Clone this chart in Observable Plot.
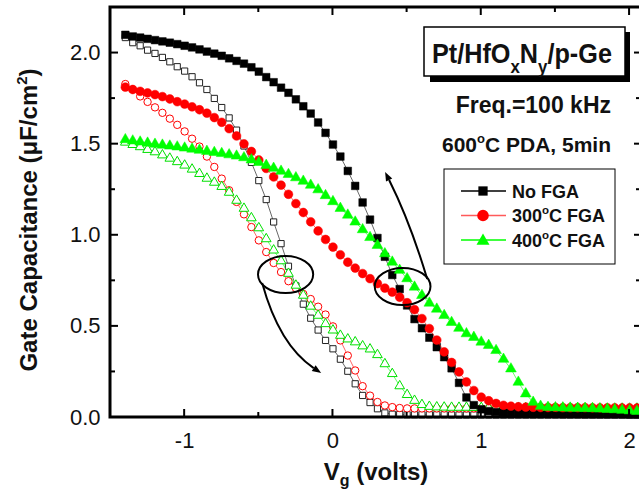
<!DOCTYPE html>
<html>
<head>
<meta charset="utf-8">
<script src="https://cdn.jsdelivr.net/npm/d3@7"></script>
<script src="https://cdn.jsdelivr.net/npm/@observablehq/plot@0.6"></script>
<style>
html,body{margin:0;padding:0;background:#fff;overflow:hidden}
#chart svg{display:block}
</style>
</head>
<body>
<div id="chart"></div>
<script>
// Gate voltage (V)
const vg = [-1.40,-1.35,-1.30,-1.25,-1.20,-1.15,-1.10,-1.05,-1.00,-0.95,
  -0.90,-0.85,-0.80,-0.75,-0.70,-0.65,-0.60,-0.55,-0.50,-0.45,
  -0.40,-0.35,-0.30,-0.25,-0.20,-0.15,-0.10,-0.05,0.00,0.05,
  0.10,0.15,0.20,0.25,0.30,0.35,0.40,0.45,0.50,0.55,
  0.60,0.65,0.70,0.75,0.80,0.85,0.90,0.95,1.00,1.05,
  1.10,1.15,1.20,1.25,1.30,1.35,1.40,1.45,1.50,1.55,
  1.60,1.65,1.70,1.75,1.80,1.85,1.90,1.95,2.00,2.05];

// Filled symbols
const noFgaFilled = [2.100,2.091,2.085,2.078,2.071,2.064,2.057,2.049,2.040,2.031,
  2.020,2.008,1.997,1.985,1.971,1.957,1.942,1.922,1.898,1.868,
  1.840,1.810,1.782,1.746,1.708,1.668,1.619,1.562,1.498,1.432,
  1.353,1.271,1.180,1.086,0.985,0.882,0.782,0.705,0.615,0.540,
  0.490,0.438,0.386,0.331,0.270,0.190,0.110,0.068,0.045,0.035,
  0.030,0.027,0.025,0.024,0.023,0.022,0.022,0.021,0.021,0.020,
  0.020,0.020,0.019,0.019,0.019,0.018,0.018,0.018,0.017,0.017];
const fga300Filled = [1.813,1.800,1.790,1.781,1.772,1.761,1.748,1.733,1.720,1.705,
  1.689,1.670,1.646,1.620,1.585,1.545,1.502,1.460,1.413,1.367,
  1.320,1.275,1.225,1.174,1.125,1.074,1.024,0.977,0.935,0.893,
  0.852,0.820,0.790,0.762,0.735,0.710,0.688,0.660,0.630,0.592,
  0.543,0.488,0.425,0.360,0.302,0.250,0.195,0.148,0.112,0.092,
  0.077,0.067,0.062,0.059,0.057,0.056,0.055,0.055,0.055,0.054,
  0.054,0.054,0.054,0.053,0.053,0.053,0.053,0.052,0.052,0.052];
const fga400Filled = [1.525,1.518,1.512,1.506,1.500,1.495,1.490,1.485,1.479,1.473,
  1.467,1.461,1.455,1.449,1.442,1.435,1.426,1.414,1.400,1.384,
  1.368,1.352,1.334,1.316,1.297,1.275,1.250,1.218,1.185,1.148,
  1.111,1.073,1.031,0.988,0.945,0.899,0.853,0.808,0.762,0.716,
  0.670,0.628,0.595,0.560,0.522,0.490,0.460,0.440,0.414,0.396,
  0.368,0.320,0.267,0.194,0.130,0.084,0.062,0.056,0.054,0.053,
  0.052,0.051,0.050,0.049,0.047,0.045,0.043,0.040,0.037,0.034];

// Open symbols
const noFgaOpen = [2.085,2.057,2.040,2.016,1.998,1.976,1.952,1.925,1.901,1.870,
  1.837,1.800,1.751,1.701,1.644,1.577,1.490,1.400,1.300,1.196,
  1.073,0.954,0.830,0.722,0.622,0.545,0.480,0.423,0.377,0.320,
  0.254,0.185,0.121,0.082,0.048,0.025,0.018,0.016,0.015,0.015,
  0.015,0.015,0.015,0.015,0.014,0.014,0.014,0.014,0.014,0.014,
  0.014,0.014,0.014,0.014,0.014,0.014,0.014,0.014,0.014,0.014,
  0.014,0.014,0.014,0.014,0.014,0.014,0.014,0.014,0.014,0.014];
const fga300Open = [1.830,1.800,1.762,1.732,1.702,1.672,1.640,1.606,1.570,1.530,
  1.487,1.432,1.375,1.311,1.247,1.183,1.115,1.045,0.972,0.908,
  0.848,0.798,0.748,0.710,0.678,0.650,0.608,0.565,0.500,0.423,
  0.340,0.258,0.172,0.120,0.085,0.066,0.057,0.052,0.050,0.050,
  0.050,0.050,0.050,0.050,0.050,0.050,0.050,0.050,0.050,0.050,
  0.050,0.050,0.050,0.050,0.050,0.050,0.050,0.050,0.050,0.050,
  0.050,0.050,0.050,0.050,0.050,0.050,0.050,0.050,0.050,0.050];
const fga400Open = [1.510,1.497,1.485,1.470,1.457,1.440,1.422,1.403,1.384,1.362,
  1.338,1.312,1.290,1.267,1.235,1.191,1.147,1.095,1.040,0.980,
  0.918,0.859,0.790,0.725,0.670,0.610,0.560,0.514,0.479,0.450,
  0.430,0.414,0.392,0.375,0.344,0.294,0.240,0.173,0.125,0.093,
  0.070,0.060,0.057,0.056,0.055,0.055,0.055,0.054,0.054,0.054,
  0.054,0.053,0.053,0.053,0.053,0.052,0.052,0.052,0.052,0.051,
  0.051,0.051,0.051,0.050,0.050,0.050,0.050,0.050,0.050,0.050];

// Axis ticks
const xMajor = [-1, 0, 1, 2];
const xTickLabels = ["-1", "0", "1", "2"];
const xMinor = [-0.5, 0.5, 1.5];
const yMajor = [0, 0.5, 1, 1.5, 2];
const yTickLabels = ["0.0", "0.5", "1.0", "1.5", "2.0"];
const yMinor = [0.25, 0.75, 1.25, 1.75];

// Legend / labels
const seriesNames = ["No FGA", "300", "400"];
const seriesColors = ["#000000", "#ff0000", "#00ff00"];
const legendLineColors = ["#000000", "#ff5a5a", "#00ff00"];

// Annotations (data coordinates)
const ellipses = [
  {v: -0.316, c: 0.782, rv: 0.186, rc: 0.102},
  {v: 0.473, c: 0.716, rv: 0.188, rc: 0.102}
];
const arrows = [
  {v0: -0.474, c0: 0.735, vc: -0.359, cc: 0.395, v1: -0.076, c1: 0.241},
  {v0: 0.639, c0: 0.757, vc: 0.524, cc: 1.070, v1: 0.355, c1: 1.345}
];

const FONT = "'Liberation Sans', Arial, Helvetica, sans-serif";
const rows = values => values.map((c, i) => ({v: vg[i], c}));

const plot = Plot.plot({
  width: 639, height: 497,
  marginLeft: 110, marginRight: 0, marginTop: 7, marginBottom: 80,
  x: {domain: [-1.5, 2.067], axis: null},
  y: {domain: [0, 2.25], axis: null},
  style: {background: "#fff", fontFamily: FONT, color: "#000"},
  marks: [
    Plot.line(rows(noFgaOpen), {x: "v", y: "c", stroke: "#000", strokeWidth: 0.6}),
    Plot.dot(rows(noFgaOpen), {x: "v", y: "c", symbol: "square", r: 3.5, fill: "#fff", stroke: "#222", strokeWidth: 1}),
    Plot.line(rows(fga300Open), {x: "v", y: "c", stroke: "#ff0000", strokeWidth: 0.6}),
    Plot.dot(rows(fga300Open), {x: "v", y: "c", symbol: "circle", r: 3.7, fill: "#fff", stroke: "#ff0000", strokeWidth: 1}),
    Plot.line(rows(fga400Open), {x: "v", y: "c", stroke: "#00ff00", strokeWidth: 0.6}),
    Plot.dot(rows(fga400Open), {x: "v", y: "c", symbol: "triangle", r: 3.6, fill: "#fff", stroke: "#00e000", strokeWidth: 1}),
    Plot.line(rows(noFgaFilled), {x: "v", y: "c", stroke: "#000", strokeWidth: 0.6}),
    Plot.dot(rows(noFgaFilled), {x: "v", y: "c", symbol: "square", r: 4.3, fill: "#000", stroke: "#000", strokeWidth: 0.5}),
    Plot.line(rows(fga300Filled), {x: "v", y: "c", stroke: "#ff0000", strokeWidth: 0.6}),
    Plot.dot(rows(fga300Filled), {x: "v", y: "c", symbol: "circle", r: 4.4, fill: "#ff0000", stroke: "#ff0000", strokeWidth: 0.5}),
    Plot.line(rows(fga400Filled), {x: "v", y: "c", stroke: "#00ff00", strokeWidth: 0.6}),
    Plot.dot(rows(fga400Filled), {x: "v", y: "c", symbol: "triangle", r: 4.0, fill: "#00ff00", stroke: "#00ff00", strokeWidth: 0.5}),
    Plot.text(xMajor, {x: d => d, y: 0, text: (d, i) => xTickLabels[i], dy: 23, fontSize: 22, fill: "#111"}),
    Plot.text(yMajor, {x: -1.5, y: d => d, text: (d, i) => yTickLabels[i], textAnchor: "end", dx: -10, fontSize: 22, fill: "#111"})
  ]
});
document.getElementById("chart").appendChild(plot);

const svg = d3.select(plot);
const sx = plot.scale("x"), sy = plot.scale("y");
const X = v => sx.apply(v), Y = c => sy.apply(c);
const L = X(-1.5), R = X(2.067), T = Y(2.25), B = Y(0);

// frame and ticks
const ax = svg.append("g").attr("stroke", "#000").attr("fill", "none");
ax.append("path").attr("d", `M${R},${T}H${L}V${B}H${R}`).attr("stroke-width", 3);
const tick = (x1, y1, x2, y2) => ax.append("line").attr("x1", x1).attr("y1", y1).attr("x2", x2).attr("y2", y2).attr("stroke-width", 2);
xMajor.forEach(v => { tick(X(v), B, X(v), B - 8); tick(X(v), T, X(v), T + 8); });
xMinor.forEach(v => { tick(X(v), B, X(v), B - 5); tick(X(v), T, X(v), T + 5); });
yMajor.forEach(c => { tick(L, Y(c), L + 8, Y(c)); tick(R, Y(c), R - 5, Y(c)); });
yMinor.forEach(c => { tick(L, Y(c), L + 5, Y(c)); tick(R, Y(c), R - 3, Y(c)); });

// ellipses & arrows
const an = svg.append("g").attr("stroke", "#000").attr("fill", "none").attr("stroke-width", 2);
ellipses.forEach(e => {
  an.append("ellipse").attr("cx", X(e.v)).attr("cy", Y(e.c))
    .attr("rx", X(e.v + e.rv) - X(e.v)).attr("ry", Y(e.c) - Y(e.c + e.rc));
});
arrows.forEach(a => {
  const p0 = [X(a.v0), Y(a.c0)], pc = [X(a.vc), Y(a.cc)], p1 = [X(a.v1), Y(a.c1)];
  const dx = p1[0] - pc[0], dy = p1[1] - pc[1], len = Math.hypot(dx, dy);
  const ux = dx / len, uy = dy / len;
  const bx = p1[0] - 9 * ux, by = p1[1] - 9 * uy;
  an.append("path").attr("d", `M${p0[0]},${p0[1]}Q${pc[0]},${pc[1]} ${bx},${by}`);
  an.append("path").attr("fill", "#000").attr("stroke", "none")
    .attr("d", `M${p1[0]},${p1[1]}L${bx - 3.5 * uy},${by + 3.5 * ux}L${bx + 3.5 * uy},${by - 3.5 * ux}Z`);
});

// text group
const tx = svg.append("g").attr("font-family", FONT).attr("font-weight", "bold")
  .attr("fill", "#111").attr("text-anchor", "start");

// title box with shadow
tx.append("rect").attr("x", 430).attr("y", 32).attr("width", 200).attr("height", 50).attr("fill", "#000");
tx.append("rect").attr("x", 424).attr("y", 27).attr("width", 201).attr("height", 49)
  .attr("fill", "#fff").attr("stroke", "#000").attr("stroke-width", 1.5);
const title = tx.append("text").attr("x", 432).attr("y", 63).attr("font-size", 27)
  .attr("text-anchor", "start").attr("transform", "translate(432,0) scale(0.935,1) translate(-432,0)");
title.append("tspan").text("Pt/HfO");
title.append("tspan").attr("font-size", 18).attr("dy", 10).text("x");
title.append("tspan").attr("dy", -10).text("N");
title.append("tspan").attr("font-size", 18).attr("dy", 10).text("y");
title.append("tspan").attr("dy", -10).text("/p-Ge");

tx.append("text").attr("x", 611).attr("y", 113).attr("text-anchor", "end").attr("font-size", 23).text("Freq.=100 kHz");
const pda = tx.append("text").attr("x", 611).attr("y", 152).attr("text-anchor", "end").attr("font-size", 21);
pda.append("tspan").text("600");
pda.append("tspan").attr("font-size", 13).attr("dy", -9).text("o");
pda.append("tspan").attr("dy", 9).text("C PDA, 5min");

// legend
tx.append("rect").attr("x", 444).attr("y", 169).attr("width", 171).attr("height", 95)
  .attr("fill", "#fff").attr("stroke", "#000").attr("stroke-width", 1);
const legY = [191, 215.5, 240];
const legSym = [d3.symbol(d3.symbolSquare, 86), d3.symbol(d3.symbolCircle, 106), d3.symbol(d3.symbolTriangle, 73)];
seriesNames.forEach((name, i) => {
  const y = legY[i];
  tx.append("line").attr("x1", 461).attr("x2", 506).attr("y1", y).attr("y2", y)
    .attr("stroke", legendLineColors[i]).attr("stroke-width", 1.3);
  tx.append("path").attr("d", legSym[i]()).attr("transform", `translate(483,${y + (i === 2 ? 1 : 0)})`)
    .attr("fill", seriesColors[i]);
  const t = tx.append("text").attr("x", 512).attr("y", y + 6.5).attr("font-size", 18).attr("text-anchor", "start");
  if (i === 0) t.text(name);
  else {
    t.append("tspan").text(name);
    t.append("tspan").attr("font-size", 11.5).attr("dy", -8).text("o");
    t.append("tspan").attr("dy", 8).text("C FGA");
  }
});

// axis titles
const yt = tx.append("text").attr("transform", "translate(37,220) rotate(-90)")
  .attr("text-anchor", "middle").attr("font-size", 24);
yt.append("tspan").text("Gate Capacitance (\u03bcF/cm");
yt.append("tspan").attr("font-size", 15).attr("dy", -10).text("2");
yt.append("tspan").attr("dy", 10).text(")");

const xt = tx.append("text").attr("x", 376).attr("y", 480).attr("text-anchor", "middle").attr("font-size", 24);
xt.append("tspan").text("V");
xt.append("tspan").attr("font-size", 16).attr("dy", 6).text("g");
xt.append("tspan").attr("dy", -6).text(" (volts)");
</script>
</body>
</html>
